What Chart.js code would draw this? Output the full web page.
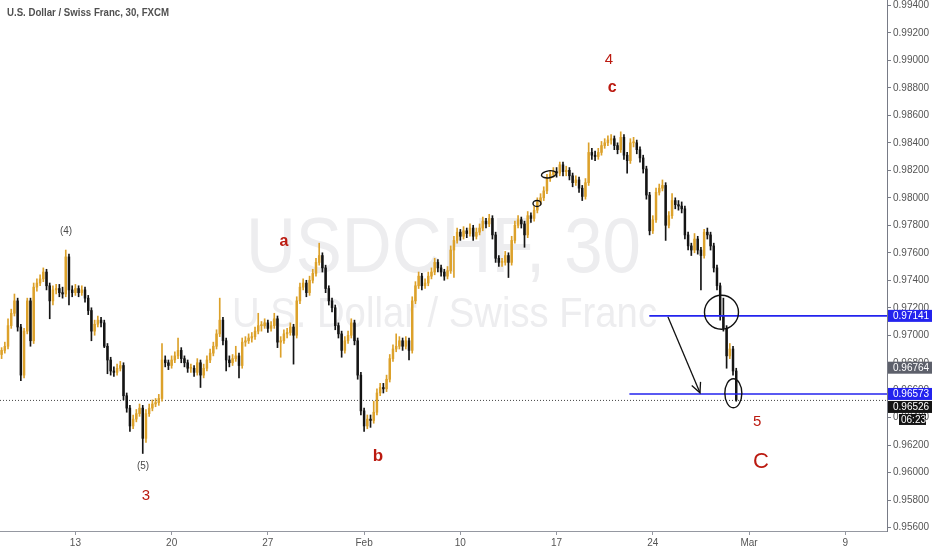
<!DOCTYPE html>
<html>
<head>
<meta charset="utf-8">
<title>USDCHF, 30</title>
<script src="https://cdn.jsdelivr.net/npm/chart.js@4.4.1/dist/chart.umd.min.js"></script>
<style>
  body { margin: 0; background: #fff; }
  canvas { display: block; }
</style>
</head>
<body>
<canvas id="chart" width="932" height="550"></canvas>
<script>
'use strict';

// 4h candles, first one sits at x = 0.5
const firstOpen = 0.9686;
const closes = [
  0.9689, 0.9692, 0.9707, 0.9716, 0.9725, 0.9706, 0.9671, 0.9703, 0.9725, 0.9696,
  0.9735, 0.9738, 0.9741, 0.9746, 0.9736, 0.9725, 0.9733, 0.9734, 0.9731, 0.9730,
  0.9757, 0.9733, 0.9731, 0.9734, 0.9731, 0.9733, 0.9727, 0.9718, 0.9703, 0.9708,
  0.9711, 0.9709, 0.9692, 0.9682, 0.9674, 0.9673, 0.9676, 0.9678, 0.9656, 0.9647,
  0.9634, 0.9639, 0.9643, 0.9647, 0.9625, 0.9643, 0.9647, 0.9650, 0.9651, 0.9654,
  0.9682, 0.9680, 0.9678, 0.9682, 0.9685, 0.9689, 0.9683, 0.9680, 0.9676, 0.9676,
  0.9673, 0.9680, 0.9671, 0.9676, 0.9682, 0.9687, 0.9692, 0.9701, 0.9711, 0.9696,
  0.9682, 0.9680, 0.9683, 0.9685, 0.9678, 0.9695, 0.9696, 0.9698, 0.9699, 0.9703,
  0.9707, 0.9707, 0.9709, 0.9705, 0.9707, 0.9712, 0.9695, 0.9696, 0.9701, 0.9702,
  0.9706, 0.9700, 0.9725, 0.9735, 0.9738, 0.9731, 0.9740, 0.9745, 0.9753, 0.9758,
  0.9749, 0.9734, 0.9725, 0.9720, 0.9707, 0.9701, 0.9689, 0.9696, 0.9700, 0.9709,
  0.9696, 0.9671, 0.9645, 0.9634, 0.9639, 0.9638, 0.9644, 0.9658, 0.9662, 0.9661,
  0.9668, 0.9683, 0.9690, 0.9692, 0.9696, 0.9692, 0.9696, 0.9689, 0.9725, 0.9736,
  0.9743, 0.9736, 0.9738, 0.9743, 0.9746, 0.9753, 0.9749, 0.9746, 0.9743, 0.9747,
  0.9762, 0.9769, 0.9775, 0.9772, 0.9776, 0.9774, 0.9778, 0.9772, 0.9775, 0.9778,
  0.9783, 0.9781, 0.9785, 0.9773, 0.9756, 0.9753, 0.9753, 0.9758, 0.9753, 0.9769,
  0.9780, 0.9784, 0.9781, 0.9773, 0.9787, 0.9785, 0.9791, 0.9797, 0.9800, 0.9805,
  0.9814, 0.9817, 0.9819, 0.9818, 0.9824, 0.9819, 0.9820, 0.9816, 0.9811, 0.9813,
  0.9807, 0.9801, 0.9811, 0.9833, 0.9831, 0.9830, 0.9833, 0.9838, 0.9840, 0.9842,
  0.9843, 0.9838, 0.9835, 0.9844, 0.9831, 0.9827, 0.9840, 0.9840, 0.9835, 0.9829,
  0.9821, 0.9802, 0.9776, 0.9784, 0.9804, 0.9807, 0.9809, 0.9780, 0.9787, 0.9798,
  0.9795, 0.9794, 0.9792, 0.9773, 0.9765, 0.9762, 0.9770, 0.9762, 0.9758, 0.9775,
  0.9773, 0.9765, 0.9749, 0.9736, 0.9714, 0.9705, 0.9685, 0.9690, 0.9674, 0.9653
];
const highs = [
  0.9691, 0.9695, 0.9712, 0.9719, 0.9730, 0.9727, 0.9708, 0.9705, 0.9727, 0.9727,
  0.9738, 0.9741, 0.9744, 0.9749, 0.9748, 0.9738, 0.9736, 0.9737, 0.9737, 0.9735,
  0.9762, 0.9759, 0.9736, 0.9737, 0.9736, 0.9736, 0.9735, 0.9729, 0.9720, 0.9711,
  0.9714, 0.9713, 0.9711, 0.9694, 0.9684, 0.9677, 0.9679, 0.9681, 0.9680, 0.9658,
  0.9649, 0.9642, 0.9646, 0.9650, 0.9649, 0.9646, 0.9650, 0.9653, 0.9654, 0.9657,
  0.9694, 0.9685, 0.9682, 0.9685, 0.9688, 0.9698, 0.9691, 0.9685, 0.9682, 0.9679,
  0.9678, 0.9683, 0.9682, 0.9679, 0.9685, 0.9690, 0.9695, 0.9704, 0.9727, 0.9713,
  0.9698, 0.9685, 0.9686, 0.9692, 0.9687, 0.9698, 0.9699, 0.9701, 0.9702, 0.9706,
  0.9716, 0.9710, 0.9712, 0.9711, 0.9710, 0.9716, 0.9714, 0.9699, 0.9704, 0.9705,
  0.9709, 0.9708, 0.9728, 0.9738, 0.9741, 0.9740, 0.9743, 0.9748, 0.9756, 0.9767,
  0.9760, 0.9751, 0.9736, 0.9727, 0.9722, 0.9709, 0.9703, 0.9699, 0.9703, 0.9712,
  0.9711, 0.9698, 0.9673, 0.9647, 0.9642, 0.9642, 0.9652, 0.9661, 0.9665, 0.9665,
  0.9671, 0.9686, 0.9693, 0.9701, 0.9699, 0.9698, 0.9699, 0.9698, 0.9728, 0.9739,
  0.9746, 0.9745, 0.9741, 0.9746, 0.9749, 0.9756, 0.9755, 0.9751, 0.9748, 0.9750,
  0.9765, 0.9772, 0.9778, 0.9777, 0.9779, 0.9778, 0.9781, 0.9780, 0.9778, 0.9781,
  0.9786, 0.9785, 0.9788, 0.9787, 0.9775, 0.9758, 0.9756, 0.9761, 0.9760, 0.9772,
  0.9783, 0.9787, 0.9786, 0.9783, 0.9790, 0.9789, 0.9794, 0.9800, 0.9803, 0.9808,
  0.9817, 0.9820, 0.9822, 0.9822, 0.9826, 0.9826, 0.9823, 0.9822, 0.9818, 0.9816,
  0.9815, 0.9809, 0.9814, 0.9840, 0.9836, 0.9834, 0.9836, 0.9841, 0.9843, 0.9845,
  0.9846, 0.9845, 0.9840, 0.9848, 0.9846, 0.9833, 0.9843, 0.9844, 0.9842, 0.9837,
  0.9831, 0.9823, 0.9804, 0.9787, 0.9807, 0.9810, 0.9813, 0.9811, 0.9790, 0.9803,
  0.9800, 0.9798, 0.9797, 0.9794, 0.9775, 0.9767, 0.9774, 0.9772, 0.9764, 0.9777,
  0.9778, 0.9775, 0.9767, 0.9751, 0.9738, 0.9727, 0.9707, 0.9694, 0.9692, 0.9676
];
const lows = [
  0.9683, 0.9687, 0.9690, 0.9705, 0.9714, 0.9703, 0.9667, 0.9669, 0.9701, 0.9692,
  0.9694, 0.9732, 0.9736, 0.9739, 0.9733, 0.9712, 0.9722, 0.9730, 0.9728, 0.9727,
  0.9728, 0.9722, 0.9728, 0.9729, 0.9728, 0.9729, 0.9724, 0.9715, 0.9696, 0.9700,
  0.9706, 0.9706, 0.9691, 0.9672, 0.9671, 0.9670, 0.9671, 0.9674, 0.9653, 0.9644,
  0.9630, 0.9632, 0.9637, 0.9641, 0.9614, 0.9622, 0.9641, 0.9645, 0.9648, 0.9649,
  0.9652, 0.9677, 0.9675, 0.9676, 0.9680, 0.9683, 0.9680, 0.9677, 0.9673, 0.9673,
  0.9670, 0.9671, 0.9662, 0.9669, 0.9674, 0.9680, 0.9685, 0.9690, 0.9699, 0.9693,
  0.9674, 0.9677, 0.9678, 0.9681, 0.9669, 0.9676, 0.9692, 0.9694, 0.9695, 0.9697,
  0.9701, 0.9703, 0.9705, 0.9702, 0.9703, 0.9705, 0.9691, 0.9684, 0.9694, 0.9698,
  0.9700, 0.9679, 0.9698, 0.9723, 0.9733, 0.9728, 0.9729, 0.9738, 0.9743, 0.9751,
  0.9746, 0.9731, 0.9722, 0.9717, 0.9704, 0.9698, 0.9684, 0.9687, 0.9694, 0.9698,
  0.9693, 0.9668, 0.9642, 0.9630, 0.9632, 0.9633, 0.9636, 0.9642, 0.9656, 0.9658,
  0.9659, 0.9666, 0.9681, 0.9688, 0.9690, 0.9689, 0.9690, 0.9682, 0.9687, 0.9723,
  0.9734, 0.9733, 0.9734, 0.9736, 0.9741, 0.9744, 0.9746, 0.9743, 0.9740, 0.9741,
  0.9745, 0.9742, 0.9767, 0.9769, 0.9770, 0.9771, 0.9772, 0.9769, 0.9770, 0.9773,
  0.9776, 0.9778, 0.9779, 0.9770, 0.9753, 0.9750, 0.9750, 0.9751, 0.9742, 0.9751,
  0.9767, 0.9778, 0.9778, 0.9764, 0.9771, 0.9782, 0.9783, 0.9789, 0.9795, 0.9798,
  0.9803, 0.9812, 0.9815, 0.9815, 0.9816, 0.9816, 0.9816, 0.9813, 0.9808, 0.9809,
  0.9804, 0.9798, 0.9799, 0.9809, 0.9828, 0.9827, 0.9828, 0.9831, 0.9836, 0.9838,
  0.9839, 0.9835, 0.9832, 0.9833, 0.9828, 0.9818, 0.9825, 0.9837, 0.9832, 0.9826,
  0.9818, 0.9799, 0.9773, 0.9774, 0.9782, 0.9802, 0.9805, 0.9769, 0.9778, 0.9785,
  0.9792, 0.9791, 0.9789, 0.9770, 0.9762, 0.9758, 0.9760, 0.9759, 0.9733, 0.9756,
  0.9770, 0.9762, 0.9746, 0.9733, 0.9711, 0.9703, 0.9676, 0.9683, 0.9671, 0.9652
];

// axes
const weekTicks = [23.5, 53.5, 83.5, 113.5, 143.5, 173.5, 203.5, 233.5, 263.5];
const weekLabels = ['13', '20', '27', 'Feb', '10', '17', '24', 'Mar', '9'];
const priceTicks = [0.956, 0.958, 0.960, 0.962, 0.964, 0.966, 0.968, 0.970, 0.972, 0.974,
  0.976, 0.978, 0.980, 0.982, 0.984, 0.986, 0.988, 0.990, 0.992, 0.994];

// drawings on the chart
const levelPrices = [0.97141, 0.96573];
const levelStarts = [202.4, 196.2];
const lastPrice = 0.96526;
const tagPrice = 0.96764;
const countdown = '06:23';
const arrowFrom = [208.2, 0.97135];
const arrowTo = [218.2, 0.96581];

const waveLabels = ['(4)', 'a', '(5)', '3', 'b', '4', 'c', '5', 'C'];
const waveX = [20.6, 88.5, 44.6, 45.5, 117.8, 189.8, 190.8, 236.0, 237.2];
const waveY = [0.9776, 0.9768, 0.9605, 0.9583, 0.9612, 0.9900, 0.9880, 0.9637, 0.9608];

const circleX = [224.9, 228.6, 171.1, 167.4];
const circleY = [0.97167, 0.96578, 0.98171, 0.97959];

const GOLD = '#dca12a';
const DARK = '#141414';
const BLUE = '#2323ee';
const RED = '#bb1a10';
const FONT = '"Liberation Sans", Arial, sans-serif';

let wicks = [];
let bodies = [];
let colors = [];
for (let i = 0; i < closes.length; i++) {
  let open = i === 0 ? firstOpen : closes[i - 1];
  wicks.push({ x: i + 0.5, y: [lows[i], highs[i]] });
  bodies.push({ x: i + 0.5, y: [open, closes[i]] });
  colors.push(closes[i] >= open ? GOLD : DARK);
}

function flat(price, from){
  return [{ x: from, y: price }, { x: 276.5, y: price }];
}

const overlay = {
  id: 'overlay',
  beforeDatasetsDraw(chart){
    const { ctx, chartArea } = chart;
    let mid = (chartArea.left + chartArea.right) / 2;
    ctx.save();
    ctx.fillStyle = '#ededef';
    ctx.textAlign = 'center';
    ctx.font = '77px ' + FONT;
    ctx.fillText('USDCHF, 30', mid, 272, 395);
    ctx.font = '42px ' + FONT;
    ctx.fillText('U.S. Dollar / Swiss Franc', mid + 1, 327, 425);
    ctx.restore();
  },
  afterDatasetsDraw(chart){
    const { ctx } = chart;
    const xs = chart.scales.x;
    const ys = chart.scales.y;
    ctx.save();

    // arrow head
    let tx = xs.getPixelForValue(arrowTo[0]);
    let ty = ys.getPixelForValue(arrowTo[1]);
    let ang = Math.atan2(ty - ys.getPixelForValue(arrowFrom[1]), tx - xs.getPixelForValue(arrowFrom[0]));
    ctx.strokeStyle = '#111';
    ctx.lineWidth = 1.3;
    ctx.beginPath();
    ctx.moveTo(tx - 11 * Math.cos(ang - 0.45), ty - 11 * Math.sin(ang - 0.45));
    ctx.lineTo(tx, ty);
    ctx.lineTo(tx - 11 * Math.cos(ang + 0.45), ty - 11 * Math.sin(ang + 0.45));
    ctx.stroke();

    // hand drawn circles
    const radii = [[17, 17], [8.5, 14.5], [7.5, 3.5], [4, 3]];
    ctx.lineWidth = 1.4;
    for (let i = 0; i < circleX.length; i++) {
      ctx.beginPath();
      ctx.ellipse(xs.getPixelForValue(circleX[i]), ys.getPixelForValue(circleY[i]),
        radii[i][0], radii[i][1], i === 2 ? -0.15 : 0, 0, Math.PI * 2);
      ctx.stroke();
    }

    // wave labels
    const fonts = { 'a': 'bold 16px ', 'b': 'bold 17px ', 'c': 'bold 16px ', 'C': '22px ' };
    ctx.textAlign = 'center';
    ctx.textBaseline = 'middle';
    for (let i = 0; i < waveLabels.length; i++) {
      let txt = waveLabels[i];
      if (txt[0] === '(') {
        ctx.fillStyle = '#4a4a4a';
        ctx.font = '10px ' + FONT;
      } else {
        ctx.fillStyle = RED;
        ctx.font = (fonts[txt] || '15px ') + FONT;
      }
      ctx.fillText(txt, xs.getPixelForValue(waveX[i]), ys.getPixelForValue(waveY[i]));
    }
    ctx.restore();
  },
  afterDraw(chart){
    const { ctx, chartArea } = chart;
    const ys = chart.scales.y;
    ctx.save();
    ctx.fillStyle = '#505050';
    ctx.font = 'bold 11px ' + FONT;
    ctx.textBaseline = 'alphabetic';
    ctx.fillText('U.S. Dollar / Swiss Franc, 30, FXCM', 7, 16, 162);

    // price tags on the right axis
    let tags = [
      { v: levelPrices[0], bg: BLUE },
      { v: tagPrice, bg: '#5d606b' },
      { v: levelPrices[1], bg: BLUE },
      { v: lastPrice, bg: DARK }
    ];
    let left = chartArea.right + 1;
    let prevBottom = -100;
    ctx.font = '10px ' + FONT;
    ctx.textBaseline = 'middle';
    for (let t of tags) {
      let top = Math.max(ys.getPixelForValue(t.v) - 6, prevBottom + 1);
      ctx.fillStyle = t.bg;
      ctx.fillRect(left, top, 932 - left, 12);
      ctx.fillStyle = '#fff';
      ctx.fillText(t.v.toFixed(5), left + 5, top + 6.5);
      prevBottom = top + 12;
    }
    ctx.fillStyle = DARK;
    ctx.fillRect(left + 11, prevBottom + 1, 27, 11);
    ctx.fillStyle = '#fff';
    ctx.fillText(countdown, left + 13, prevBottom + 7);
    ctx.restore();
  }
};

new Chart(document.getElementById('chart'), {
  data: {
    datasets: [
      { type: 'line', data: flat(levelPrices[0], levelStarts[0]), borderColor: BLUE, borderWidth: 1.6, pointRadius: 0, order: 0 },
      { type: 'line', data: flat(levelPrices[1], levelStarts[1]), borderColor: BLUE, borderWidth: 1.6, pointRadius: 0, order: 0 },
      { type: 'line', data: flat(lastPrice, 0), borderColor: '#444', borderWidth: 1, borderDash: [1, 2], pointRadius: 0, order: 3 },
      { type: 'line', data: [{ x: arrowFrom[0], y: arrowFrom[1] }, { x: arrowTo[0], y: arrowTo[1] }], borderColor: '#111', borderWidth: 1.3, pointRadius: 0, order: 0 },
      { type: 'bar', data: wicks, backgroundColor: colors, barThickness: 1, grouped: false, order: 2 },
      { type: 'bar', data: bodies, backgroundColor: colors, barThickness: 1.8, minBarLength: 1, grouped: false, order: 1 }
    ]
  },
  options: {
    responsive: false,
    animation: false,
    events: [],
    layout: { padding: 0 },
    plugins: { legend: { display: false }, tooltip: { enabled: false } },
    scales: {
      x: {
        type: 'linear',
        offset: false,
        min: 0,
        max: 276.5,
        afterBuildTicks: s => { s.ticks = weekTicks.map(v => ({ value: v })); },
        afterFit: s => { s.height = 19; s.paddingLeft = 0; s.paddingRight = 0; },
        grid: { offset: false, drawOnChartArea: false, tickLength: 4, color: '#9598a1' },
        border: { color: '#9598a1', width: 1 },
        ticks: {
          autoSkip: false,
          maxRotation: 0,
          padding: 2,
          color: '#555',
          font: { size: 10, family: FONT },
          callback: (v, i) => weekLabels[i]
        }
      },
      y: {
        position: 'right',
        min: 0.95576,
        max: 0.99439,
        afterBuildTicks: s => { s.ticks = priceTicks.map(v => ({ value: v })); },
        afterFit: s => { s.width = 45; s.paddingTop = 0; s.paddingBottom = 0; },
        grid: { drawOnChartArea: false, tickLength: 4, color: '#787b86' },
        border: { color: '#787b86', width: 1 },
        ticks: {
          padding: 2,
          color: '#555',
          font: { size: 10, family: FONT },
          callback: v => v.toFixed(5)
        }
      }
    }
  },
  plugins: [overlay]
});
</script>
</body>
</html>
